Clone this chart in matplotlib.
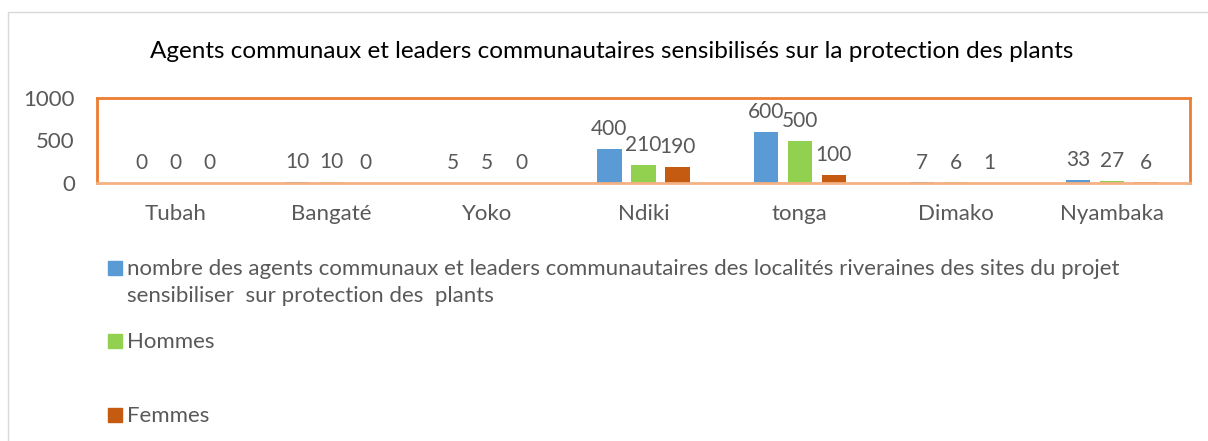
import numpy as np
import matplotlib.pyplot as plt
from matplotlib.patches import Rectangle

categories = ['Tubah', 'Bangaté', 'Yoko', 'Ndiki', 'tonga', 'Dimako', 'Nyambaka']
total = [0, 10, 5, 400, 600, 7, 33]
hommes = [0, 10, 5, 210, 500, 6, 27]
femmes = [0, 0, 0, 190, 100, 1, 6]
series_names = ['nombre des agents communaux et leaders communautaires des localités riveraines des sites du projet\nsensibiliser  sur protection des  plants',
                'Hommes', 'Femmes']
colors = ['#5B9BD5', '#92D050', '#C55A11']

plt.rcParams['font.family'] = ['Lato', 'DejaVu Sans']
grey = '#595959'

fig = plt.figure(figsize=(12.08, 4.41), dpi=100)
ax = fig.add_axes([97 / 1208, 1 - 183 / 441, 1093 / 1208, 85 / 441])

x = np.arange(len(categories))
w = 0.155
step = 0.218
for k, vals in enumerate([total, hommes, femmes]):
    pos = x + (k - 1) * step
    ax.bar(pos, vals, width=w, color=colors[k], zorder=2)
    for p, v in zip(pos, vals):
        ax.annotate(str(v), (p, v), xytext=(0, 7), textcoords='offset points',
                    ha='center', va='bottom', fontsize=15, color=grey)

ax.set_xlim(-0.5, len(categories) - 0.5)
ax.set_ylim(0, 1000)
ax.set_yticks([0, 500, 1000])
ax.set_xticks(x)
ax.set_xticklabels(categories)
ax.tick_params(axis='both', length=0, labelsize=16, colors=grey)
ax.tick_params(axis='y', pad=16)
ax.tick_params(axis='x', pad=15)
for s in ax.spines.values():
    s.set_color('#ED7D31')
    s.set_linewidth(2)
ax.spines['bottom'].set_color('#F4B183')

fig.text(612 / 1208, 1 - 51 / 441, 'Agents communaux et leaders communautaires sensibilisés sur la protection des plants',
         ha='center', va='center', fontsize=17.5, color='black')

# chart area frame
fig.patches.append(Rectangle((8 / 1208, -0.05), 1.1, 1 - 12 / 441 + 0.05, transform=fig.transFigure,
                             fill=False, edgecolor='#D9D9D9', linewidth=1))

# legend
ys = [268, 341, 415]
for k, name in enumerate(series_names):
    yc = 1 - ys[k] / 441
    fig.patches.append(Rectangle((108 / 1208, yc - 7 / 441), 14 / 1208, 14 / 441,
                                 transform=fig.transFigure, color=colors[k]))
    fig.text(127 / 1208, yc + 9 / 441, name, ha='left', va='top', fontsize=16,
             color=grey, linespacing=1.45)

fig.savefig('out.png', dpi=100)
